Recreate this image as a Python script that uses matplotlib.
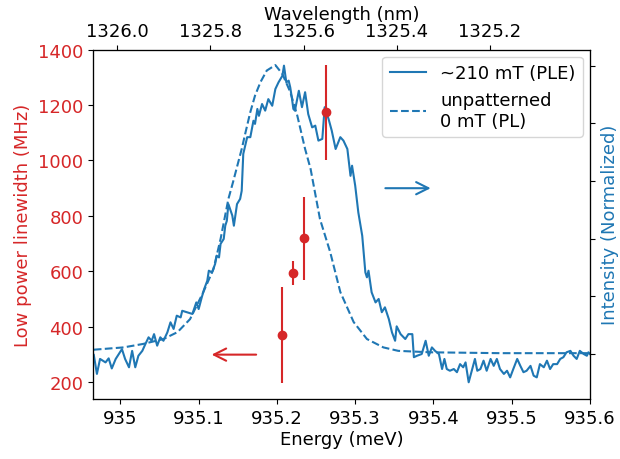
import matplotlib
matplotlib.use("Agg")
import matplotlib.pyplot as plt

# linewidth points (left axis)
lw_energy = [935.207, 935.221, 935.235, 935.263]
lw_mhz = [370, 594, 720, 1173]
lw_err = [173, 42, 150, 170]

# PLE at ~210 mT (right axis, normalized)
ple_energy = [
    934.966, 934.970, 934.974, 934.981, 934.985, 934.989, 934.994, 934.998,
    935.002, 935.006, 935.011, 935.015, 935.019, 935.023, 935.028, 935.032,
    935.036, 935.040, 935.043, 935.047, 935.051, 935.055, 935.060, 935.064,
    935.068, 935.072, 935.077, 935.079, 935.085, 935.092, 935.097, 935.100,
    935.104, 935.107, 935.111, 935.113, 935.117, 935.121, 935.123, 935.126,
    935.128, 935.132, 935.134, 935.136, 935.138, 935.143, 935.145, 935.149,
    935.153, 935.155, 935.157, 935.162, 935.166, 935.170, 935.172, 935.175,
    935.177, 935.181, 935.185, 935.189, 935.194, 935.198, 935.202, 935.207,
    935.209, 935.212, 935.215, 935.217, 935.219, 935.221, 935.223, 935.228,
    935.232, 935.236, 935.240, 935.245, 935.249, 935.253, 935.258, 935.261,
    935.266, 935.270, 935.275, 935.281, 935.285, 935.290, 935.292, 935.294,
    935.296, 935.300, 935.304, 935.309, 935.313, 935.315, 935.317, 935.321,
    935.326, 935.330, 935.334, 935.338, 935.343, 935.347, 935.351, 935.353,
    935.358, 935.364, 935.368, 935.373, 935.375, 935.379, 935.385, 935.390,
    935.394, 935.398, 935.402, 935.407, 935.411, 935.414, 935.417, 935.421,
    935.426, 935.430, 935.434, 935.438, 935.441, 935.445, 935.449, 935.453,
    935.456, 935.460, 935.464, 935.468, 935.473, 935.477, 935.481, 935.485,
    935.490, 935.494, 935.498, 935.502, 935.507, 935.511, 935.515, 935.519,
    935.524, 935.528, 935.532, 935.536, 935.541, 935.545, 935.549, 935.553,
    935.558, 935.562, 935.566, 935.570, 935.575, 935.579, 935.583, 935.587,
    935.592, 935.596, 935.598, 935.600,
]
ple_int = [
    -0.003, -0.069, -0.017, -0.029, -0.015, -0.050, -0.017, 0.000,
    0.017, -0.017, -0.046, 0.011, -0.046, -0.006, 0.011, 0.035,
    0.058, 0.046, 0.069, 0.029, 0.058, 0.046, 0.075, 0.110,
    0.087, 0.133, 0.127, 0.150, 0.145, 0.139, 0.179, 0.156,
    0.197, 0.225, 0.254, 0.289, 0.283, 0.312, 0.341, 0.335,
    0.382, 0.399, 0.445, 0.462, 0.520, 0.480, 0.445, 0.520,
    0.538, 0.566, 0.694, 0.752, 0.752, 0.809, 0.798, 0.850,
    0.826, 0.867, 0.844, 0.884, 0.861, 0.919, 0.942, 0.965,
    1.000, 0.942, 0.948, 0.925, 0.890, 0.850, 0.844, 0.913,
    0.856, 0.908, 0.832, 0.786, 0.792, 0.740, 0.746, 0.856,
    0.815, 0.775, 0.711, 0.752, 0.740, 0.711, 0.665, 0.618,
    0.653, 0.584, 0.491, 0.410, 0.283, 0.266, 0.289, 0.214,
    0.179, 0.191, 0.145, 0.162, 0.121, 0.075, 0.046, 0.096,
    0.069, 0.052, 0.069, 0.069, -0.011, -0.006, 0.000, 0.046,
    -0.006, 0.023, 0.011, 0.000, -0.052, -0.017, -0.052, -0.058,
    -0.052, -0.063, -0.035, -0.046, -0.029, -0.098, -0.058, -0.017,
    -0.058, -0.052, -0.023, -0.058, -0.017, -0.041, -0.017, -0.052,
    -0.069, -0.058, -0.081, -0.052, -0.017, -0.041, -0.063, -0.058,
    -0.041, -0.075, -0.081, -0.035, -0.046, -0.023, -0.052, -0.035,
    -0.035, -0.017, -0.011, 0.006, 0.011, -0.006, -0.017, 0.011,
    0.000, -0.006, 0.006, 0.000,
]

# unpatterned PL at 0 mT (right axis, normalized)
pl_energy = [
    934.966, 935.004, 935.029, 935.055, 935.073, 935.089, 935.106, 935.119,
    935.128, 935.138, 935.144, 935.155, 935.160, 935.166, 935.172, 935.179,
    935.187, 935.198, 935.207, 935.217, 935.226, 935.236, 935.243, 935.255,
    935.268, 935.281, 935.298, 935.315, 935.336, 935.355, 935.396, 935.485,
    935.600,
]
pl_int = [
    0.015, 0.023, 0.035, 0.052, 0.076, 0.121, 0.215, 0.295,
    0.399, 0.538, 0.597, 0.711, 0.770, 0.839, 0.896, 0.943,
    0.983, 1.002, 0.971, 0.909, 0.827, 0.711, 0.642, 0.468,
    0.354, 0.215, 0.111, 0.052, 0.023, 0.011, 0.006, 0.003,
    0.003,
]

energy_ticks = [935, 935.1, 935.2, 935.3, 935.4, 935.5, 935.6]
energy_ticklabels = ["935", "935.1", "935.2", "935.3", "935.4", "935.5", "935.6"]
wl_ticks = [1326.0, 1325.8, 1325.6, 1325.4, 1325.2]
lw_ticks = [200, 400, 600, 800, 1000, 1200, 1400]
int_ticks = [0, 0.2, 0.4, 0.6, 0.8, 1.0]

RED = "#d62728"
BLUE = "#1f77b4"

plt.rcParams["font.size"] = 13

fig = plt.figure(figsize=(6.2, 4.6), dpi=100)
ax1 = fig.add_axes([0.150, 0.1304, 0.8016, 0.7598])
ax2 = ax1.twinx()
ax3 = ax1.twiny()

# intensity curves
ax2.plot(ple_energy, ple_int, color=BLUE, lw=1.5, label="~210 mT (PLE)")
ax2.plot(pl_energy, pl_int, color=BLUE, lw=1.5, ls="--",
         label="unpatterned\n0 mT (PL)")
ax2.set_ylim(-0.156, 1.056)
ax2.set_yticks(int_ticks)
ax2.set_yticklabels([])
ax2.set_ylabel("Intensity (Normalized)", color=BLUE, labelpad=1)
ax2.legend(loc="upper right", fontsize=13, borderaxespad=0.4)

# linewidth points on top
ax1.set_zorder(ax2.get_zorder() + 1)
ax1.patch.set_visible(False)
ax1.errorbar(lw_energy, lw_mhz, yerr=lw_err, fmt="o", color=RED,
             ms=6, elinewidth=1.5)
ax1.set_xlim(934.965, 935.6)
ax1.set_ylim(140, 1400)
ax1.set_xticks(energy_ticks)
ax1.set_xticklabels(energy_ticklabels)
ax1.set_yticks(lw_ticks)
ax1.tick_params(axis="y", labelcolor=RED)
ax1.set_xlabel("Energy (meV)", labelpad=2)
ax1.set_ylabel("Low power linewidth (MHz)", color=RED)

ax1.annotate("", xy=(935.113, 300), xytext=(935.177, 300),
             arrowprops=dict(arrowstyle="->", color=RED, lw=1.5,
                             mutation_scale=22))
ax1.annotate("", xy=(935.400, 900), xytext=(935.335, 900),
             arrowprops=dict(arrowstyle="->", color=BLUE, lw=1.5,
                             mutation_scale=22))

# wavelength axis on top
ax3.set_xlim(1326.052, 1324.985)
ax3.set_xticks(wl_ticks)
ax3.set_xticklabels([f"{w:.1f}" for w in wl_ticks])
ax3.set_xlabel("Wavelength (nm)", labelpad=2)

fig.savefig("out.png", dpi=100)
